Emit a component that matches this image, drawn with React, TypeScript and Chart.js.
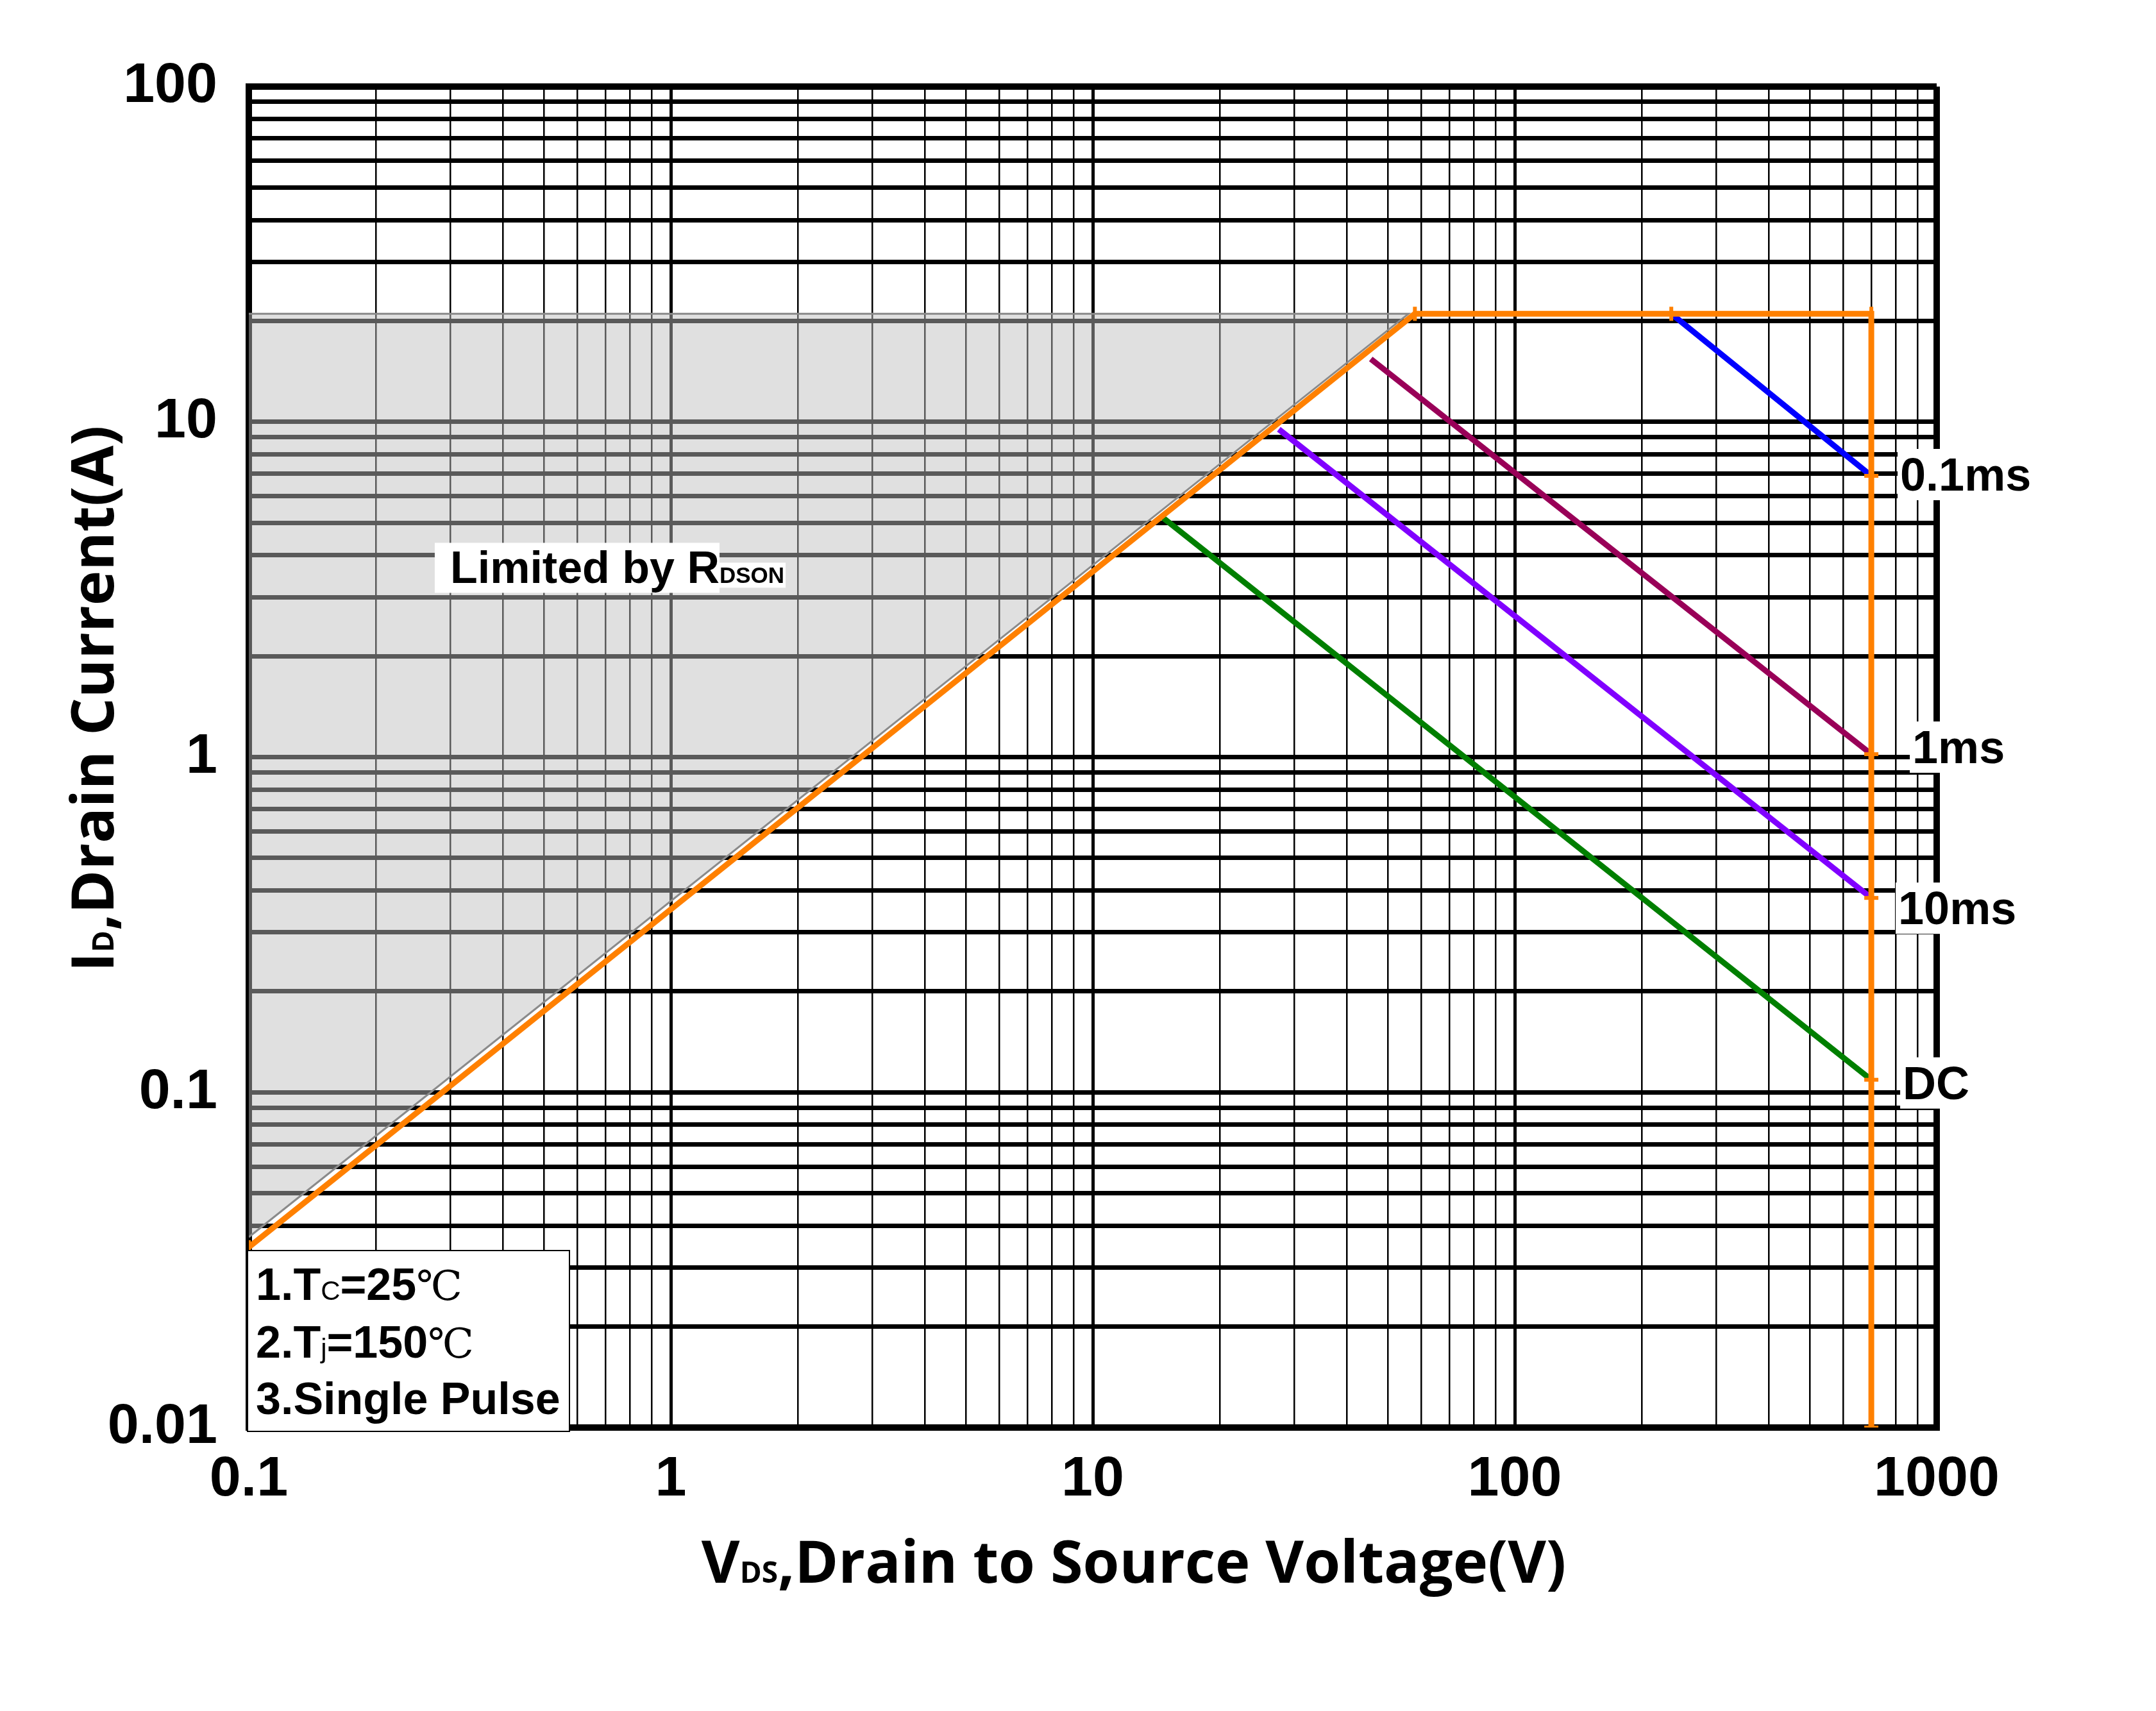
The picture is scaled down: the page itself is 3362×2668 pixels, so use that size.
import React, { useEffect, useRef } from "react";
import { Chart, registerables } from "chart.js";

Chart.register(...registerables);

const W = 3362;
const H = 2668;

// ---------- axis ticks ----------
const xTickValues = [0.1, 1, 10, 100, 1000];
const xTickLabels = ["0.1", "1", "10", "100", "1000"];
const yTickValues = [0.01, 0.1, 1, 10, 100];
const yTickLabels = ["0.01", "0.1", "1", "10", "100"];
const minorMultipliers = [1, 2, 3, 4, 5, 6, 7, 8, 9];

// ---------- data ----------
// SOA boundary (orange): RDS(on) limit, current limit, BVDSS limit
const limitV = [0.1, 58, 235, 700, 700, 700, 700, 700, 700];
const limitI = [0.0345, 21, 21, 21, 6.9, 1.02, 0.38, 0.109, 0.01];
// Region limited by RDS(on) (grey)
const shadeV = [0.1, 56, 0.1];
const shadeI = [0.037, 21, 21];
// Pulse curves
const pulse01msV = [235, 700];
const pulse01msI = [21, 6.9];
const pulse1msV = [45.6, 700];
const pulse1msI = [15.4, 1.02];
const pulse10msV = [27.6, 700];
const pulse10msI = [9.5, 0.38];
const dcV = [14.6, 700];
const dcI = [5.2, 0.109];

const curveLabels = ["0.1ms", "1ms", "10ms", "DC"];
const curveColors = ["#0000FF", "#990058", "#8000FF", "#007F00"];
const curveLabelOffsets = [
  { dx: 45, dy: 23 },
  { dx: 64, dy: 14 },
  { dx: 42, dy: 41 },
  { dx: 49, dy: 30 },
];

const ORANGE = "#FF8000";
const SANS = '"Liberation Sans", Arial, sans-serif';
const TITLE = '"Open Sans", "Liberation Sans", sans-serif';

function pts(xs: number[], ys: number[]) {
  return xs.map((x, i) => ({ x, y: ys[i] }));
}

function logGrid(decadeStarts: number[], top: number) {
  const out: number[] = [];
  decadeStarts.forEach((d) =>
    minorMultipliers.forEach((m) => out.push(+(d * m).toPrecision(6)))
  );
  out.push(top);
  return out;
}

const xGrid = logGrid(xTickValues.slice(0, -1), xTickValues[xTickValues.length - 1]);
const yGrid = logGrid(yTickValues.slice(0, -1), yTickValues[yTickValues.length - 1]);

const isDecade = (v: number) => {
  const l = Math.log10(v);
  return Math.abs(l - Math.round(l)) < 1e-6;
};
const near = (a: number, b: number) => Math.abs(a - b) / b < 1e-6;

const labelFor = (vals: number[], labels: string[]) => (value: number | string) => {
  const v = Number(value);
  const i = vals.findIndex((t) => near(v, t));
  return i >= 0 ? labels[i] : "";
};

type Run = { t: string; f: string };

function runsWidth(ctx: CanvasRenderingContext2D, runs: Run[]) {
  let w = 0;
  for (const r of runs) {
    ctx.font = r.f;
    w += ctx.measureText(r.t).width;
  }
  return w;
}

function drawRuns(
  ctx: CanvasRenderingContext2D,
  runs: Run[],
  x: number,
  y: number,
  bg?: { l: number; r: number }
) {
  if (bg) {
    let cx = x;
    runs.forEach((r, i) => {
      ctx.font = r.f;
      const m = ctx.measureText(r.t);
      const a = m.fontBoundingBoxAscent;
      const d = m.fontBoundingBoxDescent;
      const pl = i === 0 ? bg.l : 0;
      const pr = i === runs.length - 1 ? bg.r : 0;
      ctx.fillStyle = "#fff";
      ctx.fillRect(cx - pl, y - a, m.width + pl + pr, a + d);
      cx += m.width;
    });
  }
  let cx = x;
  ctx.fillStyle = "#000";
  ctx.textAlign = "left";
  ctx.textBaseline = "alphabetic";
  for (const r of runs) {
    ctx.font = r.f;
    ctx.fillText(r.t, cx, y);
    cx += ctx.measureText(r.t).width;
  }
}

const annotations = {
  id: "soaAnnotations",
  afterDraw(chart: any) {
    const { ctx, chartArea, scales } = chart;
    const xs = scales.x;
    const ys = scales.y;
    ctx.save();

    // "Limited by RDSON"
    const lx = xs.getPixelForValue(0.3);
    const ly = ys.getPixelForValue(3.3);
    drawRuns(
      ctx,
      [
        { t: "Limited by R", f: `bold 70px ${SANS}` },
        { t: "DSON", f: `bold 35px ${SANS}` },
      ],
      lx,
      ly,
      { l: 24, r: 2 }
    );

    // Notes box
    const bx = chartArea.left - 2;
    const bb = chartArea.bottom + 6;
    const bw = 502;
    const bh = 282;
    ctx.fillStyle = "#fff";
    ctx.fillRect(bx, bb - bh, bw, bh);
    ctx.strokeStyle = "#000";
    ctx.lineWidth = 2;
    ctx.strokeRect(bx, bb - bh, bw, bh);
    const B = `bold 70px ${SANS}`;
    const S = `normal 42px ${SANS}`;
    const DEG = `normal 64px "DejaVu Serif", "Noto Sans CJK SC", serif`;
    drawRuns(ctx, [{ t: "1.T", f: B }, { t: "C", f: S }, { t: "=25", f: B }, { t: "℃", f: DEG }], bx + 13, bb - 205);
    drawRuns(ctx, [{ t: "2.T", f: B }, { t: "j", f: S }, { t: "=150", f: B }, { t: "℃", f: DEG }], bx + 13, bb - 115);
    drawRuns(ctx, [{ t: "3.Single Pulse", f: B }], bx + 13, bb - 27);

    // Curve labels at end of each pulse line
    for (let i = 0; i < curveLabels.length; i++) {
      const meta = chart.getDatasetMeta(i + 1);
      const last = meta.data[meta.data.length - 1];
      const off = curveLabelOffsets[i];
      drawRuns(ctx, [{ t: curveLabels[i], f: `bold 72px ${SANS}` }], last.x + off.dx, last.y + off.dy, {
        l: 4,
        r: 6,
      });
    }

    // X axis title
    const xRuns: Run[] = [
      { t: "V", f: `bold 92px ${TITLE}` },
      { t: "DS", f: `bold 46px ${TITLE}` },
      { t: ",Drain to Source Voltage(V)", f: `bold 92px ${TITLE}` },
    ];
    const xw = runsWidth(ctx, xRuns);
    const xc = (chartArea.left + chartArea.right) / 2 + 64;
    drawRuns(ctx, xRuns, xc - xw / 2, chartArea.bottom + 242);

    // Y axis title
    const yRuns: Run[] = [
      { t: "I", f: `bold 92px ${TITLE}` },
      { t: "D", f: `bold 46px ${TITLE}` },
      { t: ",Drain Current(A)", f: `bold 92px ${TITLE}` },
    ];
    const yw = runsWidth(ctx, yRuns);
    const yc = (chartArea.top + chartArea.bottom) / 2 - 91;
    ctx.translate(chartArea.left - 211, yc);
    ctx.rotate(-Math.PI / 2);
    drawRuns(ctx, yRuns, -yw / 2, 0);

    ctx.restore();
  },
};

export default function App() {
  const ref = useRef<HTMLCanvasElement>(null);

  useEffect(() => {
    const canvas = ref.current;
    if (!canvas) return;

    const orangePointRotation = (c: any) => {
      const i = c.dataIndex;
      return i <= 3 ? 90 : 0;
    };

    const curve = (i: number, xs: number[], ys: number[]) => ({
      label: curveLabels[i],
      data: pts(xs, ys),
      showLine: true,
      borderColor: curveColors[i],
      borderWidth: 9,
      borderCapStyle: "butt",
      pointRadius: 0,
      fill: false,
    });

    const chart = new Chart(canvas, {
      type: "scatter",
      data: {
        datasets: [
          {
            label: "SOA limit",
            data: pts(limitV, limitI),
            showLine: true,
            borderColor: ORANGE,
            borderWidth: 9,
            pointStyle: "line",
            pointRadius: 11,
            pointBorderWidth: 6,
            pointBorderColor: ORANGE,
            pointBackgroundColor: ORANGE,
            pointRotation: orangePointRotation,
            fill: false,
          },
          curve(0, pulse01msV, pulse01msI),
          curve(1, pulse1msV, pulse1msI),
          curve(2, pulse10msV, pulse10msI),
          curve(3, dcV, dcI),
          {
            label: "Limited by RDSON",
            data: pts(shadeV, shadeI),
            showLine: true,
            borderColor: "#8a8a8a",
            borderWidth: 3,
            backgroundColor: "rgba(190,190,190,0.475)",
            pointRadius: 0,
            fill: "shape",
          },
        ],
      },
      options: {
        animation: false,
        responsive: false,
        devicePixelRatio: 1,
        events: [],
        layout: { padding: { top: 135, right: 342, left: 0, bottom: 0 } },
        plugins: {
          legend: { display: false },
          tooltip: { enabled: false },
          title: { display: false },
        },
        scales: {
          x: {
            type: "logarithmic",
            min: 0.1,
            max: 1000,
            afterBuildTicks: (scale: any) => {
              scale.ticks = xGrid.map((v) => ({ value: v, major: isDecade(v) }));
            },
            afterFit: (scale: any) => {
              scale.height = H - 2226;
            },
            grid: {
              color: "#000",
              drawTicks: false,
              lineWidth: (c: any) => {
                const v = c.tick ? c.tick.value : 0;
                if (near(v, 0.1) || near(v, 1000)) return 10;
                if (isDecade(v)) return 5;
                return 2.5;
              },
            },
            border: { display: true, color: "#000", width: 10 },
            ticks: {
              autoSkip: false,
              maxRotation: 0,
              minRotation: 0,
              padding: 29,
              color: "#000",
              font: { family: SANS, size: 88, weight: "bold" },
              callback: labelFor(xTickValues, xTickLabels),
            },
            title: { display: false },
          },
          y: {
            type: "logarithmic",
            min: 0.01,
            max: 100,
            afterBuildTicks: (scale: any) => {
              scale.ticks = yGrid.map((v) => ({ value: v, major: isDecade(v) }));
            },
            afterFit: (scale: any) => {
              scale.width = 388;
            },
            grid: {
              color: "#000",
              drawTicks: false,
              lineWidth: (c: any) => {
                const v = c.tick ? c.tick.value : 0;
                if (near(v, 0.01) || near(v, 100)) return 10;
                return 7;
              },
            },
            border: { display: true, color: "#000", width: 10 },
            ticks: {
              autoSkip: false,
              padding: 49,
              color: "#000",
              font: { family: SANS, size: 88, weight: "bold" },
              callback: labelFor(yTickValues, yTickLabels),
            },
            title: { display: false },
          },
        },
      } as any,
      plugins: [annotations],
    });

    return () => chart.destroy();
  }, []);

  return (
    <div style={{ position: "absolute", left: 0, top: 0, width: W, height: H, background: "#fff" }}>
      <canvas ref={ref} width={W} height={H} style={{ display: "block", width: W, height: H }} />
    </div>
  );
}
